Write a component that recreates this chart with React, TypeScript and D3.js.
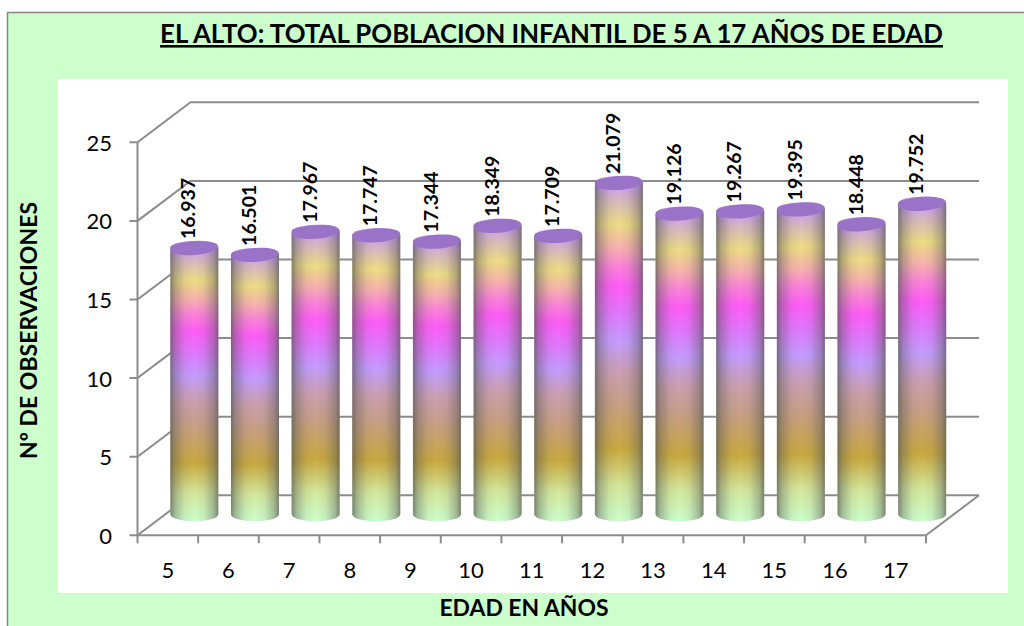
import React from "react";
import * as d3 from "d3";

const ages = [5, 6, 7, 8, 9, 10, 11, 12, 13, 14, 15, 16, 17];
const values = [16.937, 16.501, 17.967, 17.747, 17.344, 18.349, 17.709, 21.079, 19.126, 19.267, 19.395, 18.448, 19.752];
const yTicks = [0, 5, 10, 15, 20, 25];
const title = "EL ALTO: TOTAL POBLACION INFANTIL DE 5 A 17 AÑOS DE EDAD";
const xTitle = "EDAD EN AÑOS";
const yTitle = "Nº DE OBSERVACIONES";
const stops: [number, string][] = [
  [0, "#ccffcc"], [0.1, "#d4e89c"], [0.21, "#c9a93e"], [0.34, "#c8a084"], [0.43, "#cca0b0"],
  [0.52, "#c49cff"], [0.6, "#e078ff"], [0.68, "#ff5cf8"], [0.74, "#fb84d8"], [0.79, "#f8b0b0"], [0.86, "#eedd84"],
  [0.93, "#d8b8c0"], [0.98, "#cc99ff"], [1, "#cc99ff"],
];

const FONT = "Lato, 'Open Sans', sans-serif";
const GRID = "#8c8c8c";

const frontLeft = 137.5, frontRight = 926, floorFront = 535.3;
const dx = 53, dy = -40;
const y = d3.scaleLinear().domain([0, 25]).range([floorFront, floorFront - 393]);
const x = d3.scaleBand<number>().domain(ages).range([frontLeft, frontRight]);

export default function App() {
  const barW = 48;
  const ry = 7;
  const cylinderPath = (cx: number, top: number, base: number) => {
    const l = cx - barW / 2, r = cx + barW / 2;
    return `M${l},${top}L${l},${base}A${barW / 2},${ry} 0 0 0 ${r},${base}L${r},${top}A${barW / 2},${ry} 0 0 0 ${l},${top}Z`;
  };
  return (
    <svg width={1024} height={626} style={{ position: "absolute", left: 0, top: 0, display: "block" }}>
      <defs>
        <linearGradient id="vert" x1="0" y1="1" x2="0" y2="0">
          {stops.map(([o, c]) => <stop key={o} offset={o} stopColor={c} />)}
        </linearGradient>
        <linearGradient id="shade" x1="0" y1="0" x2="1" y2="0">
          <stop offset="0" stopColor="#555" stopOpacity={0.7} />
          <stop offset="0.1" stopColor="#555" stopOpacity={0.38} />
          <stop offset="0.3" stopColor="#555" stopOpacity={0.08} />
          <stop offset="0.5" stopColor="#555" stopOpacity={0} />
          <stop offset="0.7" stopColor="#555" stopOpacity={0.08} />
          <stop offset="0.9" stopColor="#555" stopOpacity={0.38} />
          <stop offset="1" stopColor="#555" stopOpacity={0.7} />
        </linearGradient>
        <filter id="soft" x="-5%" y="-5%" width="110%" height="110%">
          <feGaussianBlur stdDeviation="0.5" />
        </filter>
      </defs>
      <rect x={7.5} y={12.5} width={1040} height={640} fill="#ccffcc" stroke="#868686" strokeWidth={1.5} />
      <rect x={58} y={79} width={950} height={514} fill="#fff" />

      <text x={551.5} y={43} textAnchor="middle" fontFamily={FONT} fontWeight={700} fontSize={25.8} textDecoration="underline" fill="#000">{title}</text>

      {/* walls */}
      <g stroke={GRID} strokeWidth={2} fill="none">
        {yTicks.map((t) => (
          <path key={t} d={`M${frontLeft - 8},${y(t)}H${frontLeft}L${frontLeft + dx},${y(t) + dy}H${frontRight + dx}`} />
        ))}
        <path d={`M${frontLeft},${y(0)}V${y(25)}`} />
        <path d={`M${frontLeft},${y(0)}H${frontRight}L${frontRight + dx},${y(0) + dy}`} />
        {ages.map((a) => <path key={a} d={`M${x(a)},${y(0)}v8`} />)}
        <path d={`M${frontRight},${y(0)}v8`} />
      </g>

      {yTicks.map((t) => (
        <text key={t} x={112} y={y(t) + 8.5} textAnchor="end" fontFamily={FONT} fontSize={22} fill="#000">{t}</text>
      ))}
      {ages.map((a) => (
        <text key={a} x={x(a)! + x.bandwidth() / 2} y={578} textAnchor="middle" fontFamily={FONT} fontSize={22} fill="#000">{a}</text>
      ))}

      {ages.map((a, i) => {
        const cx = x(a)! + x.bandwidth() / 2 + dx / 2;
        const base = y(0) + dy / 2 - 1;
        const top = base - (y(0) - y(values[i]));
        const d = cylinderPath(cx, top, base);
        return (
          <g key={a}>
            <g filter="url(#soft)">
              <path d={d} fill="url(#vert)" />
              <path d={d} fill="url(#shade)" />
              <ellipse cx={cx} cy={top} rx={barW / 2} ry={ry} fill="#9a72c8" transform={`rotate(-4 ${cx} ${top})`} />
            </g>
            <text transform={`translate(${cx + 1},${top - 9}) rotate(-90)`} fontFamily={FONT} fontWeight={700} fontSize={19.5} fill="#000">{values[i].toFixed(3)}</text>
          </g>
        );
      })}

      <text x={524} y={616} textAnchor="middle" fontFamily={FONT} fontWeight={700} fontSize={22.9} fill="#000">{xTitle}</text>
      <text transform="translate(37,330.5) rotate(-90)" textAnchor="middle" fontFamily={FONT} fontWeight={700} fontSize={23} fill="#000">{yTitle}</text>
    </svg>
  );
}
